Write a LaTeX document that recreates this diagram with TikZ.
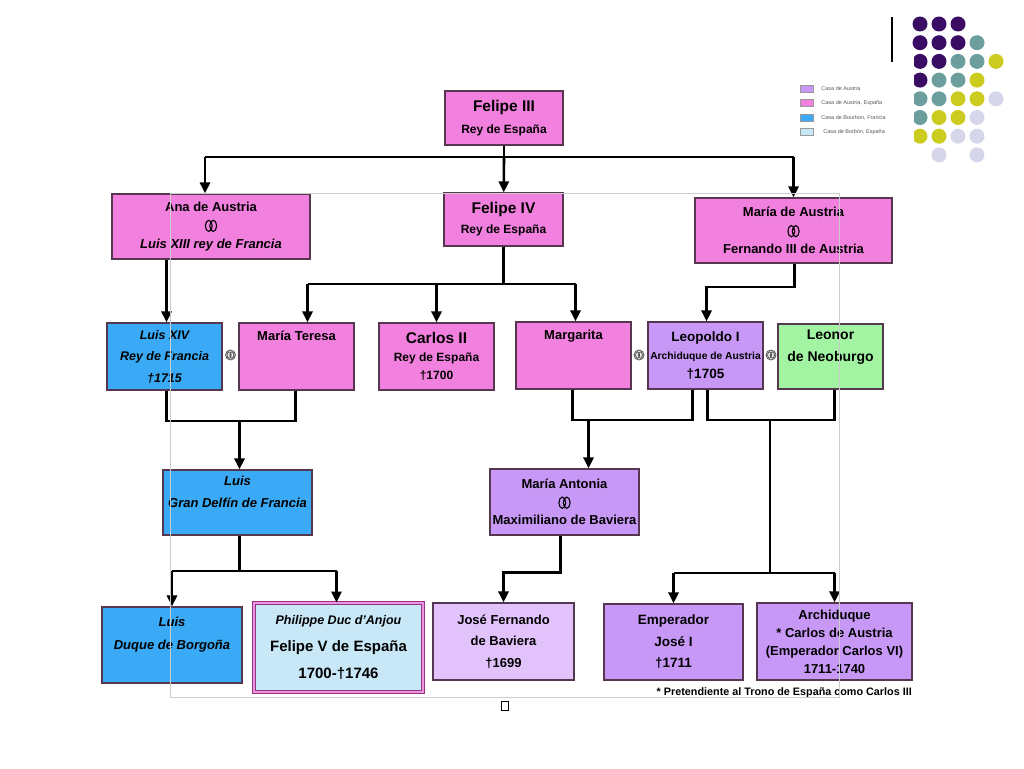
\documentclass[tikz,border=0pt]{standalone}
\usepackage{fontspec}
\setmainfont{Liberation Sans}
\usepackage{tikz}
\usetikzlibrary{positioning, arrows.meta}

\definecolor{austriaPink}{RGB}{242, 128, 222}
\definecolor{austriaPurple}{RGB}{200, 152, 246}
\definecolor{austriaLight}{RGB}{226, 194, 250}
\definecolor{bourbonBlue}{RGB}{58, 170, 246}
\definecolor{bourbonLight}{RGB}{200, 232, 248}
\definecolor{neoGreen}{RGB}{162, 244, 162}
\definecolor{boxLine}{RGB}{85, 55, 80}
\definecolor{philBorder}{RGB}{150, 50, 130}
\definecolor{philGap}{RGB}{235, 150, 220}
\definecolor{ringGray}{RGB}{80, 80, 80}
\definecolor{dotPurple}{RGB}{58, 12, 100}
\definecolor{dotTeal}{RGB}{108, 158, 158}
\definecolor{dotYellow}{RGB}{204, 204, 32}
\definecolor{dotLavender}{RGB}{214, 214, 234}

\newcommand{\fsz}[2]{\fontsize{#1}{#2}\selectfont}
% two interlaced wedding rings
\newcommand{\wed}{\tikz[baseline=-4pt]{\draw[line width=1.1pt]
  (-2.2pt,0) ellipse (3.4pt and 5.6pt) (2.2pt,0) ellipse (3.4pt and 5.6pt);}}

\begin{document}
\begin{tikzpicture}[
    x=1pt, y=-1pt,
    box/.style={rectangle, draw=boxLine, line width=1.1pt, align=center,
                inner sep=1pt, font=\bfseries\fsz{13}{18.5}},
    austria/.style={box, fill=austriaPurple},
    austriaES/.style={box, fill=austriaPink},
    bourbonFR/.style={box, fill=bourbonBlue, font=\bfseries\itshape\fsz{13}{21.5}},
    bourbonES/.style={box, fill=bourbonLight},
    neoburgo/.style={box, fill=neoGreen},
    link/.style={line width=2.6pt},
    arrow/.style={link, -{Triangle[width=10pt, length=11pt]}},
    wedding/.style={circle, draw=ringGray, fill=gray!15, line width=0.8pt,
                    minimum size=10pt, inner sep=0pt,
                    path picture={\draw[ringGray, line width=0.8pt]
                      ([xshift=-1.4pt]path picture bounding box.center) ellipse (2pt and 3.2pt)
                      ([xshift=1.4pt]path picture bounding box.center) ellipse (2pt and 3.2pt);}},
    legendbox/.style={rectangle, draw=gray!80, fill=#1, minimum width=13pt,
                      minimum height=7pt, inner sep=0pt},
    legendtext/.style={font=\fsz{5.5}{6}, text=gray!70!black, inner sep=0pt},
  ]
    \useasboundingbox (0,0) rectangle (1024,768);

    % Felipe III
    \node[austriaES, minimum width=118pt, minimum height=54pt,
          font=\bfseries\fsz{12}{22}] (F3) at (504,118)
          {{\fsz{15.5}{22}Felipe III}\\Rey de España};

    % Children of Felipe III
    \node[austriaES, minimum width=198pt, minimum height=65pt] (ANA) at (211,226.5)
      {Ana de Austria\\\wed\\\textit{Luis XIII rey de Francia}};
    \node[austriaES, minimum width=119pt, minimum height=53pt,
          font=\bfseries\fsz{12}{20}] (F4) at (503.5,219.5)
          {{\fsz{15.5}{20}Felipe IV}\\Rey de España};
    \node[austriaES, minimum width=197pt, minimum height=65pt] (MAUS) at (793.5,230.5)
      {María de Austria\\\wed\\Fernando III de Austria};

    % Grandchildren
    \node[bourbonFR, minimum width=115pt, minimum height=67pt,
          font=\bfseries\itshape\fsz{12.5}{21.5}] (L14) at (164.5,356.5)
          {Luis XIV\\Rey de Francia\\†1715};
    \node[austriaES, minimum width=115pt, minimum height=67pt,
          font=\bfseries\fsz{13}{21}] (MT) at (296.5,356.5) {María Teresa\\~\\~};
    \node[austriaES, minimum width=115pt, minimum height=67pt,
          font=\bfseries\fsz{12}{18}] (C2) at (436.5,356.5)
          {{\fsz{15.5}{18}Carlos II}\\Rey de España\\†1700};
    \node[austriaES, minimum width=115pt, minimum height=67pt,
          font=\bfseries\fsz{13}{21}] (MARG) at (573.5,355.5) {Margarita\\~\\~};
    \node[austria, minimum width=115pt, minimum height=67pt,
          font=\bfseries\fsz{13.5}{18.5}] (LEO) at (705.5,355.5)
          {Leopoldo I\\{\fsz{10.3}{18.5}Archiduque de Austria}\\†1705};
    \node[neoburgo, minimum width=105pt, minimum height=65pt,
          font=\bfseries\fsz{14}{22}] (LEON) at (830.5,356.5) {Leonor\\de Neoburgo\\~};

    \node[wedding] (W1) at (230.5,355) {};
    \node[wedding] (W2) at (639,355) {};
    \node[wedding] (W3) at (771,355) {};

    % Great-grandchildren
    \node[bourbonFR, minimum width=149pt, minimum height=65pt,
          font=\bfseries\itshape\fsz{13}{22}] (DELF) at (237.5,502.5)
          {Luis\\Gran Delfín de Francia\\~};
    \node[austria, minimum width=149pt, minimum height=66pt,
          font=\bfseries\fsz{13}{18}] (MANT) at (564.5,502)
          {María Antonia\\\wed\\Maximiliano de Baviera};

    % Last generation
    \node[bourbonFR, minimum width=140pt, minimum height=76pt,
          font=\bfseries\itshape\fsz{13}{23}] (DUQ) at (172,645)
          {Luis\\Duque de Borgoña\\~};
    \node[bourbonES, minimum width=169pt, minimum height=89pt, draw=philBorder,
          line width=0.9pt, double=philGap, double distance=1.6pt,
          font=\bfseries\fsz{15}{27}] (F5) at (338.5,647.5)
          {{\itshape\fsz{12.5}{27}Philippe Duc d'Anjou}\\Felipe V de España\\1700-†1746};
    \node[austria, fill=austriaLight, minimum width=141pt, minimum height=77pt,
          font=\bfseries\fsz{13}{21.5}] (JF) at (503.5,641.5)
          {José Fernando\\de Baviera\\†1699};
    \node[austria, minimum width=139pt, minimum height=76pt,
          font=\bfseries\fsz{13.5}{21.5}] (JOSE) at (673.5,642)
          {Emperador\\José I\\†1711};
    \node[austria, minimum width=155pt, minimum height=77pt,
          font=\bfseries\fsz{13}{18}] (CARL) at (834.5,641.5)
          {Archiduque\\* Carlos de Austria\\(Emperador Carlos VI)\\1711-1740};

    \node[font=\bfseries\fsz{10.8}{12}, anchor=east, inner sep=0pt] (NOTE) at (912,693)
      {* Pretendiente al Trono de España como Carlos III};

    % Connectors
    \coordinate (BUS1) at (0,157);
    \coordinate (BUS2) at (0,284);
    \coordinate (BUS3) at (0,287);
    \coordinate (BUS4) at (0,421);
    \coordinate (BUS5) at (0,420);
    \coordinate (BUS6) at (0,571);
    \coordinate (LNJOIN) at (770,420);
    \coordinate (LNSPLIT) at (770,573);

    \draw[link] (F3) -- (F3 |- BUS1);
    \draw[link] ([xshift=-6pt]ANA.north |- BUS1) -- (MAUS.north |- BUS1);
    \draw[arrow] ([xshift=-6pt]ANA.north |- BUS1) -- ([xshift=-6pt]ANA.north);
    \draw[arrow] (F3 |- BUS1) -- (F4);
    \draw[arrow] (MAUS.north |- BUS1) -- (MAUS.north);

    \draw[arrow] ([xshift=2pt]L14.north |- ANA.south) -- ([xshift=2pt]L14.north);

    \draw[link] (F4) -- (F4 |- BUS2);
    \draw[link] ([xshift=11pt]MT.north |- BUS2) -- ([xshift=2pt]MARG.north |- BUS2);
    \draw[arrow] ([xshift=11pt]MT.north |- BUS2) -- ([xshift=11pt]MT.north);
    \draw[arrow] (C2.north |- BUS2) -- (C2.north);
    \draw[arrow] ([xshift=2pt]MARG.north |- BUS2) -- ([xshift=2pt]MARG.north);

    \draw[arrow] ([xshift=1pt]MAUS.south) -- ([xshift=1pt]MAUS.south |- BUS3)
      -| ([xshift=1pt]LEO.north);

    \draw[link] ([xshift=2pt]L14.south) |- ([xshift=-1pt]MT.south |- BUS4)
      -- ([xshift=-1pt]MT.south);
    \draw[arrow] ([xshift=2pt]DELF.north |- BUS4) -- ([xshift=2pt]DELF.north);

    \draw[link] ([xshift=-1pt]MARG.south) |- ([xshift=-13pt]LEO.south |- BUS5)
      -- ([xshift=-13pt]LEO.south);
    \draw[arrow] ([xshift=24pt]MANT.north |- BUS5) -- ([xshift=24pt]MANT.north);

    \draw[link] ([xshift=2pt]LEO.south) |- ([xshift=4pt]LEON.south |- BUS5)
      -- ([xshift=4pt]LEON.south);
    \draw[link] (LNJOIN) -- (LNSPLIT);
    \draw[link] (JOSE.north |- LNSPLIT) -- (CARL.north |- LNSPLIT);
    \draw[arrow] (JOSE.north |- LNSPLIT) -- (JOSE.north);
    \draw[arrow] (CARL.north |- LNSPLIT) -- (CARL.north);

    \draw[link] ([xshift=2pt]DELF.south) -- ([xshift=2pt]DELF.south |- BUS6);
    \draw[link] (DUQ.north |- BUS6) -- ([xshift=-2pt]F5.north |- BUS6);
    \draw[arrow] (DUQ.north |- BUS6) -- (DUQ.north);
    \draw[arrow] ([xshift=-2pt]F5.north |- BUS6) -- ([xshift=-2pt]F5.north);

    \draw[arrow] ([xshift=-4pt]MANT.south) -- ++(0,37) -| (JF.north);

    % Legend
    \node[legendbox=austriaPurple] (LG1) at (806.5,89) {};
    \node[legendbox=austriaPink] (LG2) at (806.5,103) {};
    \node[legendbox=bourbonBlue] (LG3) at (806.5,118) {};
    \node[legendbox=bourbonLight] (LG4) at (806.5,132) {};
    \node[legendtext, right=8pt of LG1] (LG1T) {Casa de Austria};
    \node[legendtext, right=8pt of LG2] (LG2T) {Casa de Austria, España};
    \node[legendtext, right=8pt of LG3] (LG3T) {Casa de Bourbon, Francia};
    \node[legendtext, right=10pt of LG4] (LG4T) {Casa de Borbón, España};

    % Corner decoration
    \draw[line width=1.3pt] (892,17) -- (892,62);
    \foreach \c/\r/\col in {1/1/dotPurple, 2/1/dotPurple, 3/1/dotPurple,
        1/2/dotPurple, 2/2/dotPurple, 3/2/dotPurple, 4/2/dotTeal,
        2/3/dotPurple, 3/3/dotTeal, 4/3/dotTeal, 5/3/dotYellow,
        2/4/dotTeal, 3/4/dotTeal, 4/4/dotYellow,
        2/5/dotTeal, 3/5/dotYellow, 4/5/dotYellow, 5/5/dotLavender,
        2/6/dotYellow, 3/6/dotYellow, 4/6/dotLavender,
        2/7/dotYellow, 3/7/dotLavender, 4/7/dotLavender,
        2/8/dotLavender, 4/8/dotLavender}
      \fill[\col] ({901+19*\c},{5.3+18.7*\r}) circle (7.5pt);
    \begin{scope}
      \clip (914,50) rectangle (1024,150);
      \foreach \r/\col in {3/dotPurple, 4/dotPurple, 5/dotTeal, 6/dotTeal, 7/dotYellow}
        \fill[\col] (920,{5.3+18.7*\r}) circle (7.5pt);
    \end{scope}

    % Slide frame and stray mark
    \draw[gray!40, line width=1pt] (170,193) rectangle (839,697);
    \node[draw, line width=0.8pt, minimum width=7pt, minimum height=9pt,
          inner sep=0pt] (MARK) at (505,706) {};
  \end{tikzpicture}
\end{document}
